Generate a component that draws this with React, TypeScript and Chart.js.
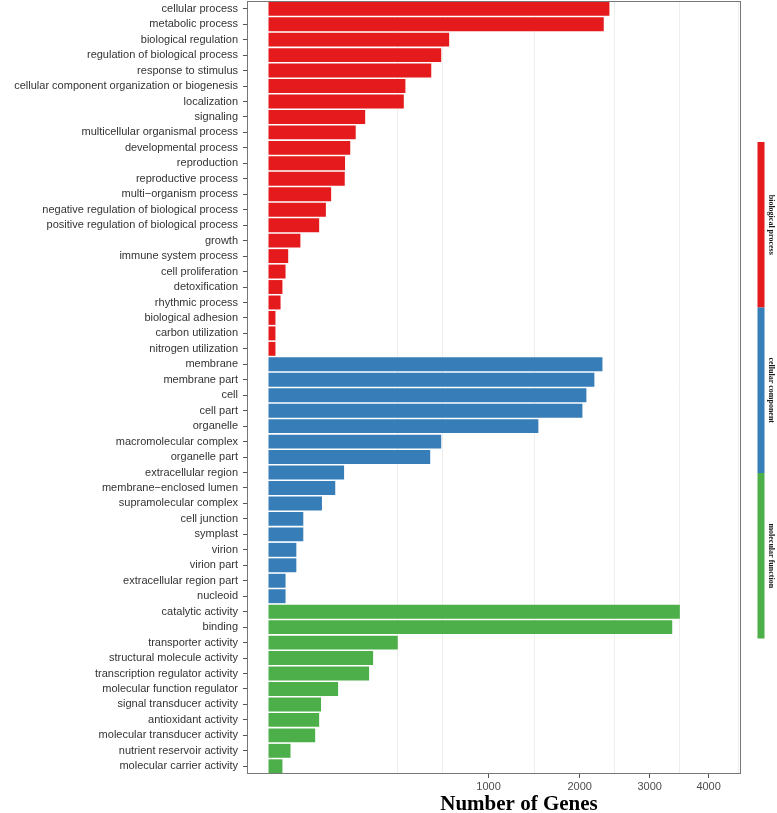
import { useEffect, useRef } from 'react';
import { Chart, registerables } from 'chart.js';

Chart.register(...registerables);

const categories = [
  'cellular process', 'metabolic process', 'biological regulation', 'regulation of biological process',
  'response to stimulus', 'cellular component organization or biogenesis', 'localization', 'signaling',
  'multicellular organismal process', 'developmental process', 'reproduction', 'reproductive process',
  'multi\u2212organism process', 'negative regulation of biological process', 'positive regulation of biological process',
  'growth', 'immune system process', 'cell proliferation', 'detoxification', 'rhythmic process',
  'biological adhesion', 'carbon utilization', 'nitrogen utilization',
  'membrane', 'membrane part', 'cell', 'cell part', 'organelle', 'macromolecular complex', 'organelle part',
  'extracellular region', 'membrane\u2212enclosed lumen', 'supramolecular complex', 'cell junction', 'symplast',
  'virion', 'virion part', 'extracellular region part', 'nucleoid',
  'catalytic activity', 'binding', 'transporter activity', 'structural molecule activity',
  'transcription regulator activity', 'molecular function regulator', 'signal transducer activity',
  'antioxidant activity', 'molecular transducer activity', 'nutrient reservoir activity', 'molecular carrier activity',
];

const biologicalProcess = [2400, 2321, 674, 616, 547, 387, 378, 193, 157, 138, 121, 120, 81, 68, 53, 21, 8, 6, 4, 3, 1, 1, 1];
const cellularComponent = [2303, 2193, 2087, 2035, 1504, 616, 540, 118, 92, 59, 25, 25, 16, 16, 6, 6];
const molecularFunction = [3494, 3366, 345, 226, 209, 100, 57, 53, 45, 10, 4];

const groupNames = ['biological process', 'cellular component', 'molecular function'];
const groupColors = ['#E41A1C', '#377EB8', '#4DAF4A'];
const xTicks = [1000, 2000, 3000, 4000];

export default function App() {
  const ref = useRef<HTMLCanvasElement>(null);

  useEffect(() => {
    document.body.style.margin = '0';
    const canvas = ref.current!;
    const groups = [biologicalProcess, cellularComponent, molecularFunction];
    const counts = groups.flat();
    const colors = groups.flatMap((g, i) => g.map(() => groupColors[i]));

    // sqrt-transformed axis (like ggplot scale_x_sqrt)
    const majorS = xTicks.map(Math.sqrt);
    const ext = [majorS[0] - (majorS[1] - majorS[0]), ...majorS, majorS[majorS.length - 1] + (majorS[majorS.length - 1] - majorS[majorS.length - 2])];
    const minorS: number[] = [ext[0]];
    for (let i = 0; i < ext.length - 1; i++) minorS.push((ext[i] + ext[i + 1]) / 2);
    const xMin = -3.09;
    const xMax = 67.9;
    const isMajor = (v: number) => majorS.some((m) => Math.abs(m - v) < 1e-6);

    const decor = {
      id: 'decor',
      afterDraw(chart: any) {
        const { ctx, chartArea } = chart;
        const { left, top, right, bottom } = chartArea;
        ctx.save();
        ctx.strokeStyle = '#777777';
        ctx.lineWidth = 1;
        ctx.strokeRect(left + 0.5, top + 0.5, right - left - 1, bottom - top - 1);

        // group strips on the right
        const stripTop = 142;
        const stripH = 165.5;
        groupNames.forEach((name, i) => {
          const y0 = stripTop + i * stripH;
          ctx.fillStyle = groupColors[i];
          ctx.fillRect(757.5, y0, 7, stripH);
          ctx.save();
          ctx.translate(771.5, y0 + stripH / 2);
          ctx.rotate(Math.PI / 2);
          ctx.fillStyle = '#1a1a1a';
          ctx.font = 'bold 8px "Liberation Serif"';
          ctx.textAlign = 'center';
          ctx.textBaseline = 'middle';
          ctx.fillText(name, 0, 0);
          ctx.restore();
        });

        // axis title
        ctx.fillStyle = '#000000';
        ctx.font = 'bold 21px "Liberation Serif"';
        ctx.textAlign = 'center';
        ctx.textBaseline = 'alphabetic';
        ctx.fillText('Number of Genes', 519, 810);
        ctx.restore();
      },
    };

    const chart = new Chart(canvas, {
      type: 'bar',
      data: {
        labels: categories,
        datasets: [
          {
            data: counts.map(Math.sqrt),
            backgroundColor: colors,
            borderWidth: 0,
            barPercentage: 0.9,
            categoryPercentage: 1,
          },
        ],
      },
      options: {
        indexAxis: 'y',
        responsive: false,
        animation: false,
        devicePixelRatio: 1,
        layout: { padding: { top: 1, right: 36, left: 0, bottom: 0 } },
        plugins: { legend: { display: false }, tooltip: { enabled: false } },
        scales: {
          x: {
            type: 'linear',
            position: 'bottom',
            min: xMin,
            max: xMax,
            afterBuildTicks: (s: any) => {
              s.ticks = [...majorS, ...minorS]
                .filter((v) => v > xMin && v < xMax)
                .sort((a, b) => a - b)
                .map((v) => ({ value: v }));
            },
            afterFit: (s: any) => {
              s.height = 39;
              s.paddingLeft = 0;
              s.paddingRight = 0;
            },
            ticks: {
              autoSkip: false,
              maxRotation: 0,
              padding: 2,
              color: '#4d4d4d',
              font: { family: 'Liberation Sans', size: 11 },
              callback: (v: any) => (isMajor(Number(v)) ? String(Math.round(Number(v) * Number(v))) : ''),
            },
            grid: {
              color: (c: any) => (c.tick && !isMajor(c.tick.value) ? '#eeeeee' : 'rgba(0,0,0,0)'),
              tickColor: (c: any) => (c.tick && isMajor(c.tick.value) ? '#555555' : 'rgba(0,0,0,0)'),
              tickLength: 4,
              lineWidth: 1,
            },
            border: { display: false },
          },
          y: {
            type: 'category',
            afterFit: (s: any) => {
              s.width = 247;
              s.paddingTop = 0;
              s.paddingBottom = 0;
            },
            ticks: {
              autoSkip: false,
              padding: 5,
              color: '#333333',
              font: { family: 'Liberation Sans', size: 11 },
            },
            grid: {
              offset: false,
              drawOnChartArea: false,
              tickLength: 4,
              tickColor: '#555555',
            },
            border: { display: false },
          },
        },
      },
      plugins: [decor],
    } as any);

    return () => chart.destroy();
  }, []);

  return <canvas ref={ref} width={777} height={813} style={{ display: 'block' }} />;
}
